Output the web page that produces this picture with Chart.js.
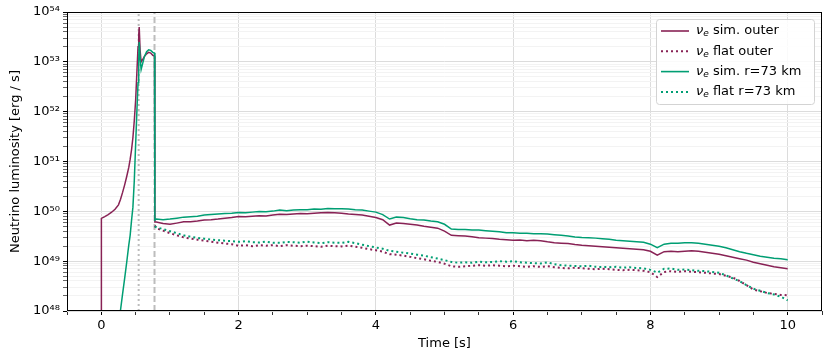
<!DOCTYPE html>
<html>
<head>
<meta charset="utf-8">
<script src="https://cdn.jsdelivr.net/npm/chart.js@4.4.0/dist/chart.umd.min.js"></script>
<style>
    html, body { margin: 0; padding: 0; background: #fff; }
</style>
</head>
<body>
<canvas id="lumChart" width="831" height="362"></canvas>
<script>
    "use strict";

    // times [s] for the collapse / bounce phase (sim. curves only)
    var earlyTimes = [0, 0.001, 0.05, 0.1, 0.15, 0.2, 0.25, 0.28, 0.31, 0.34, 0.37, 0.4, 0.42, 0.44, 0.46,
        0.48, 0.5, 0.52, 0.535, 0.545, 0.552, 0.565, 0.58, 0.6, 0.63, 0.66, 0.69, 0.72, 0.75, 0.775];

    // times [s] after the switch, shared by all four curves
    var lateTimes = [0.78, 0.8, 0.9, 1.0, 1.1, 1.2, 1.3, 1.4, 1.5, 1.6, 1.7, 1.8, 1.9,
        2.0, 2.1, 2.2, 2.3, 2.4, 2.5, 2.6, 2.7, 2.8, 2.9, 3.0, 3.1, 3.2, 3.3, 3.4, 3.5, 3.6, 3.7, 3.8, 3.9,
        4.0, 4.1, 4.2, 4.3, 4.4, 4.5, 4.6, 4.7, 4.8, 4.9, 5.0, 5.1, 5.2, 5.3, 5.4, 5.5, 5.6, 5.7, 5.8, 5.9,
        6.0, 6.1, 6.2, 6.3, 6.4, 6.5, 6.6, 6.7, 6.8, 6.9, 7.0, 7.1, 7.2, 7.3, 7.4, 7.5, 7.6, 7.7, 7.8, 7.9,
        8.0, 8.1, 8.2, 8.3, 8.4, 8.5, 8.6, 8.7, 8.8, 8.9, 9.0, 9.1, 9.2, 9.3, 9.4, 9.5, 9.6, 9.7, 9.8, 9.9, 10.0];

    // nu_e sim. outer [erg/s]
    var simOuterEarly = [5e47, 7.2e49, 7.8e49, 8.6e49, 9.6e49, 1.1e50, 1.35e50, 1.75e50, 2.4e50, 3.4e50, 5.0e50,
        7.6e50, 1.1e51, 1.7e51, 3.0e51, 6.5e51, 1.7e52, 7.0e52, 2.0e53, 3.5e53, 5.0e53, 1.7e53, 1.0e53,
        1.1e53, 1.3e53, 1.45e53, 1.55e53, 1.5e53, 1.35e53, 1.3e53];
    var simOuterLate = [6.1e49, 6.1e49, 5.7e49, 5.5e49, 5.8e49, 6.15e49, 6.2e49, 6.4e49, 6.7e49, 6.8e49, 7.0e49, 7.3e49, 7.5e49,
        7.9e49, 7.8e49, 8.0e49, 8.2e49, 8.1e49, 8.4e49, 8.7e49, 8.6e49, 8.8e49, 9.0e49, 8.9e49, 9.2e49, 9.4e49, 9.5e49, 9.4e49, 9.2e49, 8.8e49, 8.6e49, 8.4e49, 8.0e49,
        7.5e49, 6.8e49, 5.3e49, 5.8e49, 5.7e49, 5.5e49, 5.3e49, 5.0e49, 4.8e49, 4.6e49, 4.0e49, 3.3e49, 3.25e49, 3.2e49, 3.1e49, 2.96e49, 2.9e49, 2.85e49, 2.76e49, 2.7e49,
        2.64e49, 2.66e49, 2.58e49, 2.64e49, 2.58e49, 2.44e49, 2.35e49, 2.3e49, 2.25e49, 2.16e49, 2.09e49, 2.04e49, 2.0e49, 1.95e49, 1.91e49, 1.86e49, 1.82e49, 1.78e49, 1.74e49, 1.7e49,
        1.58e49, 1.32e49, 1.55e49, 1.58e49, 1.55e49, 1.58e49, 1.62e49, 1.58e49, 1.51e49, 1.44e49, 1.38e49, 1.29e49, 1.2e49, 1.12e49, 1.05e49, 9.5e48, 8.9e48, 8.3e48, 7.7e48, 7.4e48, 7.05e48];

    // nu_e flat outer [erg/s]
    var flatOuterLate = [5.2e49, 4.6e49, 4.1e49, 3.65e49, 3.3e49, 3.0e49, 2.83e49, 2.7e49, 2.58e49, 2.46e49, 2.35e49, 2.26e49, 2.19e49,
        2.03e49, 2.09e49, 2.0e49, 2.09e49, 2.04e49, 2.09e49, 2.0e49, 2.09e49, 2.04e49, 2.0e49, 2.04e49, 2.0e49, 1.95e49, 2.04e49, 2.0e49, 1.98e49, 2.04e49, 1.95e49, 1.86e49, 1.74e49,
        1.66e49, 1.55e49, 1.38e49, 1.35e49, 1.29e49, 1.22e49, 1.15e49, 1.09e49, 1.02e49, 9.66e48, 8.9e48, 7.9e48, 7.7e48, 7.9e48, 8.1e48, 8.3e48, 8.1e48, 8.3e48, 8.1e48, 7.9e48,
        8.1e48, 7.9e48, 7.7e48, 7.9e48, 7.66e48, 7.9e48, 7.56e48, 7.3e48, 7.2e48, 7.4e48, 7.2e48, 7.05e48, 6.9e48, 7.05e48, 6.9e48, 6.7e48, 6.6e48, 6.7e48, 6.6e48, 6.4e48,
        6.0e48, 4.8e48, 6.08e48, 6.3e48, 6.08e48, 6.3e48, 6.1e48, 6.0e48, 5.86e48, 5.65e48, 5.5e48, 5.1e48, 4.7e48, 4.0e48, 3.3e48, 2.7e48, 2.5e48, 2.3e48, 2.2e48, 2.1e48, 2.07e48];

    // nu_e sim. r=73 km [erg/s]
    var simR73Early = [null, null, null, null, null, null, 3e47, 1.05e48, 2.2e48, 4.5e48, 9.5e48,
        2.1e49, 3.3e49, 6.5e49, 1.2e50, 4.0e50, 2.2e51, 1.2e52, 3.8e52, 1.1e53, 2.5e53, 1.2e53, 7.0e52,
        9.0e52, 1.3e53, 1.6e53, 1.75e53, 1.7e53, 1.55e53, 1.5e53];
    var simR73Late = [6.7e49, 7.0e49, 6.8e49, 7.0e49, 7.3e49, 7.65e49, 7.8e49, 8.0e49, 8.4e49, 8.6e49, 8.8e49, 9.0e49, 9.2e49,
        9.5e49, 9.4e49, 9.64e49, 9.87e49, 9.8e49, 1.01e50, 1.06e50, 1.03e50, 1.06e50, 1.08e50, 1.07e50, 1.11e50, 1.1e50, 1.14e50, 1.13e50, 1.13e50, 1.11e50, 1.08e50, 1.06e50, 1.01e50,
        9.64e49, 8.6e49, 7.0e49, 7.65e49, 7.5e49, 7.1e49, 6.8e49, 6.7e49, 6.4e49, 6.2e49, 5.5e49, 4.4e49, 4.3e49, 4.3e49, 4.2e49, 4.2e49, 4.1e49, 4.0e49, 3.9e49, 3.7e49,
        3.7e49, 3.65e49, 3.65e49, 3.56e49, 3.56e49, 3.5e49, 3.4e49, 3.3e49, 3.2e49, 3.07e49, 3.0e49, 2.96e49, 2.9e49, 2.83e49, 2.76e49, 2.64e49, 2.58e49, 2.52e49, 2.46e49, 2.4e49,
        2.19e49, 1.86e49, 2.19e49, 2.3e49, 2.3e49, 2.35e49, 2.35e49, 2.3e49, 2.19e49, 2.09e49, 2.0e49, 1.86e49, 1.7e49, 1.55e49, 1.44e49, 1.35e49, 1.26e49, 1.2e49, 1.15e49, 1.12e49, 1.07e49];

    // nu_e flat r=73 km [erg/s]
    var flatR73Late = [5.0e49, 4.8e49, 4.4e49, 4.0e49, 3.65e49, 3.3e49, 3.1e49, 2.93e49, 2.83e49, 2.72e49, 2.64e49, 2.58e49, 2.52e49,
        2.44e49, 2.52e49, 2.4e49, 2.37e49, 2.46e49, 2.35e49, 2.33e49, 2.44e49, 2.4e49, 2.35e49, 2.46e49, 2.37e49, 2.3e49, 2.4e49, 2.35e49, 2.33e49, 2.44e49, 2.3e49, 2.14e49, 2.0e49,
        1.88e49, 1.78e49, 1.61e49, 1.55e49, 1.48e49, 1.42e49, 1.35e49, 1.29e49, 1.2e49, 1.13e49, 1.05e49, 9.66e48, 9.3e48, 9.5e48, 9.3e48, 9.75e48, 9.5e48, 9.66e48, 1.0e49, 9.75e48,
        1.0e49, 9.5e48, 9.3e48, 9.1e48, 8.97e48, 9.5e48, 8.7e48, 8.3e48, 8.1e48, 8.03e48, 7.9e48, 8.1e48, 7.7e48, 7.66e48, 7.56e48, 7.7e48, 7.4e48, 7.56e48, 7.3e48, 7.2e48,
        6.7e48, 5.9e48, 7.05e48, 7.1e48, 6.7e48, 6.8e48, 6.6e48, 6.4e48, 6.3e48, 6.08e48, 5.86e48, 5.2e48, 4.5e48, 3.95e48, 3.3e48, 2.8e48, 2.55e48, 2.3e48, 2.14e48, 1.93e48, 1.64e48];

    // vertical marker times [s]: dotted, dashed
    var markerTimes = [0.544, 0.775];

    var seriesLabels = ['sim. outer', 'flat outer', 'sim. r=73 km', 'flat r=73 km'];
    var xLabelTicks = [0, 2, 4, 6, 8, 10];
    var yDecades = [48, 49, 50, 51, 52, 53, 54];

    var purple = '#882255';
    var teal = '#009e73';
    var fontFamily = '"DejaVu Sans", sans-serif';

    function toPoints(times, values) {
        return times.map(function(t, i) {
            return { x: t, y: values[i] };
        });
    }

    var simTimes = earlyTimes.concat(lateTimes);

    var supDigits = { '0': '⁰', '1': '¹', '2': '²', '3': '³', '4': '⁴', '5': '⁵', '6': '⁶', '7': '⁷', '8': '⁸', '9': '⁹' };
    function isDecade(v) {
        var l = Math.log10(v);
        return Math.abs(l - Math.round(l)) < 1e-6;
    }

    // y ticks: every decade plus 2..9 minor ticks
    var yTickValues = [];
    yDecades.forEach(function(d) {
        for (var m = 1; m <= 9; m++) {
            if (d === yDecades[yDecades.length - 1] && m > 1) break;
            yTickValues.push(m * Math.pow(10, d));
        }
    });

    // frame + matplotlib-like legend
    var frameLegend = {
        id: 'frameLegend',
        afterDraw: function(chart) {
            var ctx = chart.ctx;
            var a = chart.chartArea;
            ctx.save();
            ctx.strokeStyle = '#000';
            ctx.lineWidth = 1;
            ctx.strokeRect(Math.round(a.left) + 0.5, Math.round(a.top) + 0.5,
                Math.round(a.right - a.left) - 1, Math.round(a.bottom - a.top) - 1);

            var bx = a.right - 166, by = a.top + 7, bw = 158, bh = 85;
            ctx.beginPath();
            ctx.roundRect(bx + 0.5, by + 0.5, bw, bh, 3);
            ctx.fillStyle = 'rgba(255,255,255,0.85)';
            ctx.fill();
            ctx.strokeStyle = '#d3d3d3';
            ctx.stroke();

            var styles = [
                { color: purple, dash: [] },
                { color: purple, dash: [2, 3] },
                { color: teal, dash: [] },
                { color: teal, dash: [2, 3] }
            ];
            ctx.textBaseline = 'middle';
            seriesLabels.forEach(function(lbl, i) {
                var y = by + 12 + i * 20.3;
                ctx.beginPath();
                ctx.setLineDash(styles[i].dash);
                ctx.strokeStyle = styles[i].color;
                ctx.lineWidth = styles[i].dash.length ? 2 : 1.6;
                ctx.moveTo(bx + 5, y);
                ctx.lineTo(bx + 33, y);
                ctx.stroke();
                ctx.setLineDash([]);

                var tx = bx + 40;
                ctx.fillStyle = '#000';
                ctx.font = 'italic 13px ' + fontFamily;
                ctx.fillText('ν', tx, y);
                tx += ctx.measureText('ν').width;
                ctx.font = 'italic 9px ' + fontFamily;
                ctx.fillText('e', tx, y + 3);
                tx += ctx.measureText('e').width;
                ctx.font = '13px ' + fontFamily;
                ctx.fillText(' ' + lbl, tx, y);
            });
            ctx.restore();
        }
    };

    Chart.defaults.font.family = fontFamily;
    Chart.defaults.font.size = 13;
    Chart.defaults.color = '#000';

    var ctx = document.getElementById('lumChart').getContext('2d');
    var myChart = new Chart(ctx, {
        type: 'line',
        data: {
            datasets: [{
                    label: 'sim. r=73 km',
                    data: toPoints(simTimes, simR73Early.concat(simR73Late)),
                    borderColor: teal,
                    borderWidth: 1.5,
                    order: 1
                },
                {
                    label: 'flat r=73 km',
                    data: toPoints(lateTimes, flatR73Late),
                    borderColor: teal,
                    borderWidth: 2,
                    borderDash: [2, 3],
                    order: 1
                },
                {
                    label: 'sim. outer',
                    data: toPoints(simTimes, simOuterEarly.concat(simOuterLate)),
                    borderColor: purple,
                    borderWidth: 1.5,
                    order: 2
                },
                {
                    label: 'flat outer',
                    data: toPoints(lateTimes, flatOuterLate),
                    borderColor: purple,
                    borderWidth: 2,
                    borderDash: [2, 3],
                    order: 2
                },
                {
                    label: 'marker1',
                    data: [{ x: markerTimes[0], y: 1e48 }, { x: markerTimes[0], y: 1e54 }],
                    borderColor: '#bdbdbd',
                    borderWidth: 2,
                    borderDash: [2, 3],
                    order: 3
                },
                {
                    label: 'marker2',
                    data: [{ x: markerTimes[1], y: 1e48 }, { x: markerTimes[1], y: 1e54 }],
                    borderColor: '#bdbdbd',
                    borderWidth: 2,
                    borderDash: [6, 3],
                    order: 3
                }
            ]
        },
        options: {
            responsive: false,
            animation: false,
            events: [],
            devicePixelRatio: 1,
            elements: {
                point: { radius: 0 },
                line: { tension: 0, fill: false }
            },
            layout: {
                padding: { top: 12, right: 9, left: 0, bottom: 0 }
            },
            plugins: {
                legend: { display: false },
                tooltip: { enabled: false }
            },
            scales: {
                x: {
                    type: 'linear',
                    min: -0.5,
                    max: 10.5,
                    border: { display: false },
                    ticks: {
                        stepSize: 0.5,
                        autoSkip: false,
                        maxRotation: 0,
                        padding: 3,
                        callback: function(v) {
                            return xLabelTicks.indexOf(v) >= 0 ? String(v) : '';
                        }
                    },
                    grid: {
                        tickLength: 4,
                        color: function(c) {
                            return xLabelTicks.indexOf(c.tick.value) >= 0 ? '#dcdcdc' : 'rgba(0,0,0,0)';
                        },
                        tickColor: '#000',
                        tickWidth: function(c) {
                            return xLabelTicks.indexOf(c.tick.value) >= 0 ? 1 : 0.8;
                        }
                    },
                    title: {
                        display: true,
                        text: 'Time [s]',
                        padding: { top: 0, bottom: 11 }
                    },
                    afterFit: function(scale) {
                        scale.height = 51;
                    }
                },
                y: {
                    type: 'logarithmic',
                    min: 1e48,
                    max: 1e54,
                    border: { display: false },
                    afterBuildTicks: function(scale) {
                        scale.ticks = yTickValues.map(function(v) {
                            return { value: v, major: isDecade(v) };
                        });
                    },
                    ticks: {
                        autoSkip: false,
                        padding: 3,
                        callback: function(v) {
                            if (!isDecade(v)) return '';
                            var e = String(Math.round(Math.log10(v)));
                            return '10' + e.split('').map(function(ch) { return supDigits[ch]; }).join('');
                        }
                    },
                    grid: {
                        tickLength: 4,
                        color: function(c) {
                            return isDecade(c.tick.value) ? '#dcdcdc' : '#f3f3f3';
                        },
                        tickColor: '#000',
                        tickWidth: function(c) {
                            return isDecade(c.tick.value) ? 1 : 0.6;
                        }
                    },
                    title: {
                        display: true,
                        text: 'Neutrino luminosity [erg / s]',
                        padding: { top: 8, bottom: 0 }
                    },
                    afterFit: function(scale) {
                        scale.width = 67;
                    }
                }
            }
        },
        plugins: [frameLegend]
    });
</script>
</body>
</html>
